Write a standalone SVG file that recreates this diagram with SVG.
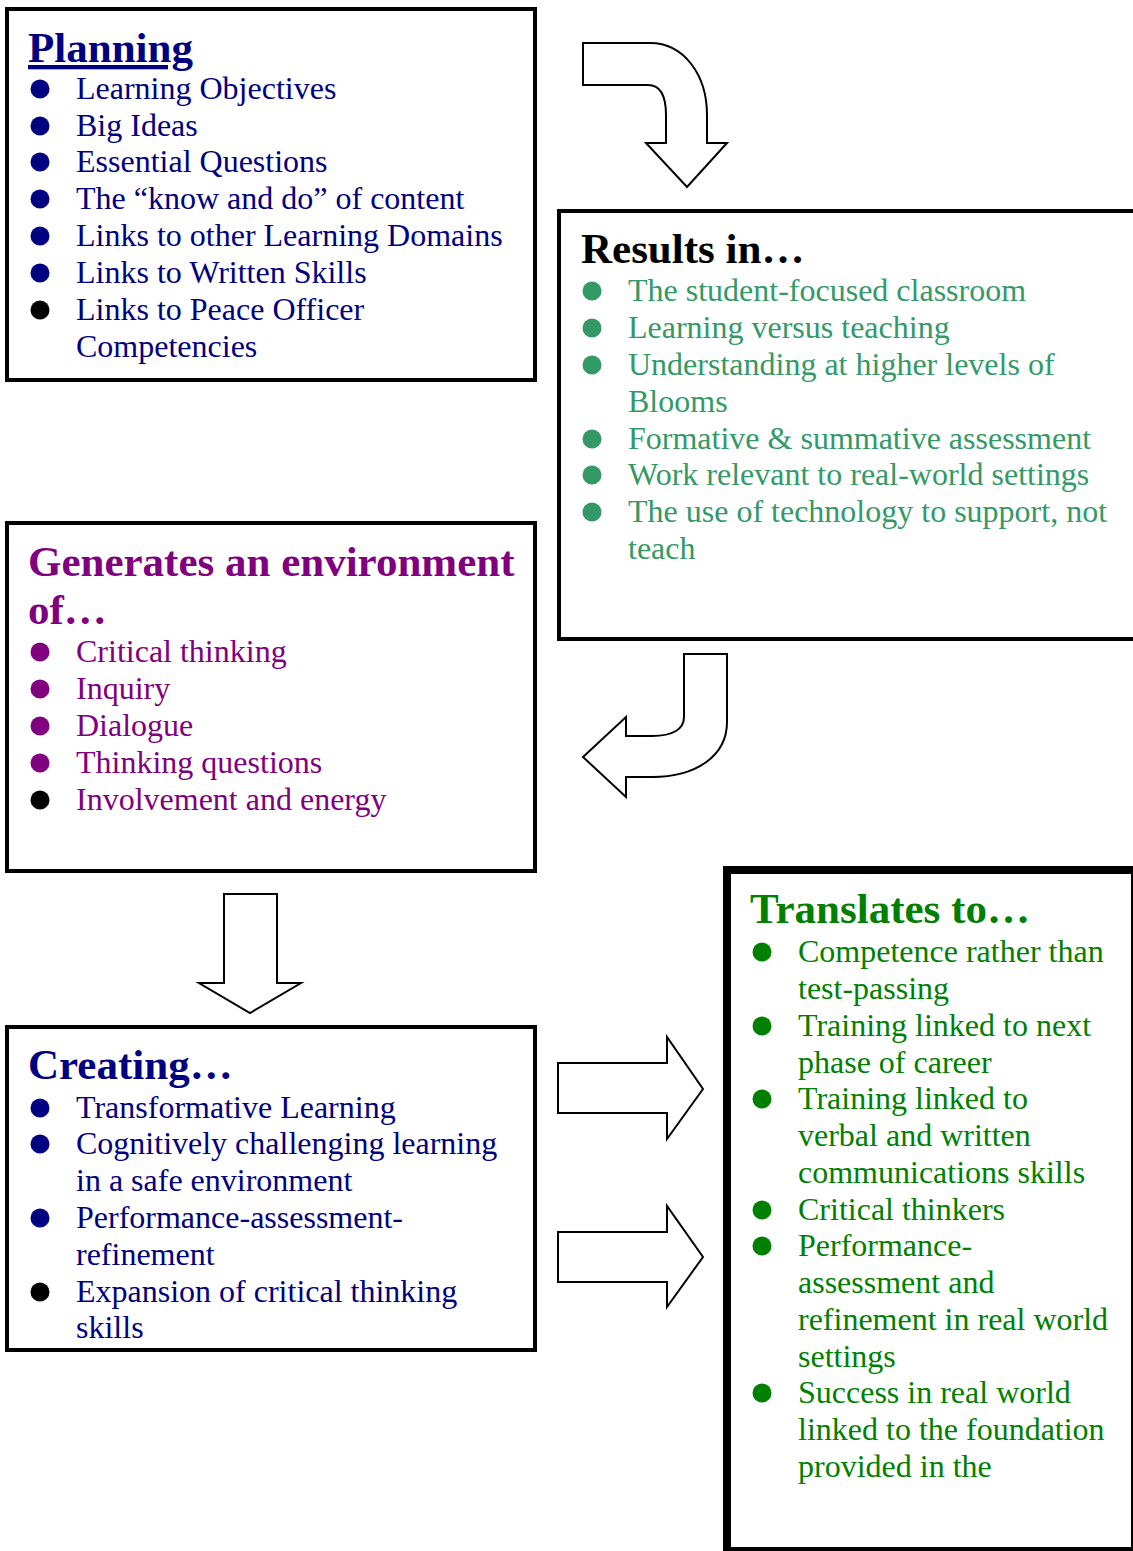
<svg xmlns="http://www.w3.org/2000/svg" width="1133" height="1551" viewBox="0 0 1133 1551">
<style>
text { font-family: "Liberation Serif", "Times New Roman", serif; }
.h { font-size: 43px; font-weight: bold; }
.t { font-size: 32px; }
.box { fill: #fff; stroke: #000; stroke-width: 4; }
.arr { fill: #fff; stroke: #000; stroke-width: 2; stroke-linejoin: miter; }
.navy { fill: #000080; }
.sea { fill: #339966; }
.purple { fill: #800080; }
.green { fill: #008000; }
.blk { fill: #000; }
</style>
<rect x="0" y="0" width="1133" height="1551" fill="#fff"/>

<g id="connectors">
  <path class="arr" d="M583,43 L650,43 C684,43 707,75 707,115 L707,143 L727,143 L687,187 L646,143 L666,143 L666,115 C666,96 660,85 648,85 L583,85 Z"/>
  <path class="arr" d="M684,654 L727,654 L727,722 C727,756 696,777 652,777 L626,777 L626,797 L583,757 L626,717 L626,736 L652,736 C673,736 684,729 684,717 Z"/>
  <path class="arr" d="M224,894 L277,894 L277,983 L301,983 L250,1013 L199,983 L224,983 Z"/>
  <path class="arr" d="M558,1063 L667,1063 L667,1037 L703,1089 L667,1139 L667,1113 L558,1113 Z"/>
  <path class="arr" d="M558,1232 L667,1232 L667,1206 L703,1257 L667,1307 L667,1282 L558,1282 Z"/>
</g>

<g id="planning">
  <rect class="box" x="7" y="9" width="528" height="371"/>
  <text class="h navy" x="28" y="62" text-decoration="underline">Planning</text>
  <circle class="navy" cx="40" cy="89" r="9.5"/>
  <text class="t navy" x="76" y="99">Learning Objectives</text>
  <circle class="navy" cx="40" cy="126" r="9.5"/>
  <text class="t navy" x="76" y="136">Big Ideas</text>
  <circle class="navy" cx="40" cy="162" r="9.5"/>
  <text class="t navy" x="76" y="172">Essential Questions</text>
  <circle class="navy" cx="40" cy="199" r="9.5"/>
  <text class="t navy" x="76" y="209">The “know and do” of content</text>
  <circle class="navy" cx="40" cy="236" r="9.5"/>
  <text class="t navy" x="76" y="246">Links to other Learning Domains</text>
  <circle class="navy" cx="40" cy="273" r="9.5"/>
  <text class="t navy" x="76" y="283">Links to Written Skills</text>
  <circle class="blk" cx="40" cy="310" r="9.5"/>
  <text class="t navy" x="76" y="320">Links to Peace Officer</text>
  <text class="t navy" x="76" y="357">Competencies</text>
</g>

<g id="results">
  <rect class="box" x="559" y="211" width="600" height="428"/>
  <text class="h blk" x="581" y="263">Results in…</text>
  <circle class="sea" cx="592" cy="291" r="9.5"/>
  <text class="t sea" x="628" y="301">The student-focused classroom</text>
  <circle class="sea" cx="592" cy="328" r="9.5"/>
  <text class="t sea" x="628" y="338">Learning versus teaching</text>
  <circle class="sea" cx="592" cy="365" r="9.5"/>
  <text class="t sea" x="628" y="375">Understanding at higher levels of</text>
  <text class="t sea" x="628" y="412">Blooms</text>
  <circle class="sea" cx="592" cy="439" r="9.5"/>
  <text class="t sea" x="628" y="449">Formative &amp; summative assessment</text>
  <circle class="sea" cx="592" cy="475" r="9.5"/>
  <text class="t sea" x="628" y="485">Work relevant to real-world settings</text>
  <circle class="sea" cx="592" cy="512" r="9.5"/>
  <text class="t sea" x="628" y="522">The use of technology to support, not</text>
  <text class="t sea" x="628" y="559">teach</text>
</g>

<g id="generates">
  <rect class="box" x="7" y="523" width="528" height="348"/>
  <text class="h purple" x="28" y="576">Generates an environment</text>
  <text class="h purple" x="28" y="624">of…</text>
  <circle class="purple" cx="40" cy="652" r="9.5"/>
  <text class="t purple" x="76" y="662">Critical thinking</text>
  <circle class="purple" cx="40" cy="689" r="9.5"/>
  <text class="t purple" x="76" y="699">Inquiry</text>
  <circle class="purple" cx="40" cy="726" r="9.5"/>
  <text class="t purple" x="76" y="736">Dialogue</text>
  <circle class="purple" cx="40" cy="763" r="9.5"/>
  <text class="t purple" x="76" y="773">Thinking questions</text>
  <circle class="blk" cx="40" cy="800" r="9.5"/>
  <text class="t purple" x="76" y="810">Involvement and energy</text>
</g>

<g id="creating">
  <rect class="box" x="7" y="1027" width="528" height="323"/>
  <text class="h navy" x="28" y="1079">Creating…</text>
  <circle class="navy" cx="40" cy="1108" r="9.5"/>
  <text class="t navy" x="76" y="1118">Transformative Learning</text>
  <circle class="navy" cx="40" cy="1144" r="9.5"/>
  <text class="t navy" x="76" y="1154">Cognitively challenging learning</text>
  <text class="t navy" x="76" y="1191">in a safe environment</text>
  <circle class="navy" cx="40" cy="1218" r="9.5"/>
  <text class="t navy" x="76" y="1228">Performance-assessment-</text>
  <text class="t navy" x="76" y="1265">refinement</text>
  <circle class="blk" cx="40" cy="1292" r="9.5"/>
  <text class="t navy" x="76" y="1302">Expansion of critical thinking</text>
  <text class="t navy" x="76" y="1338">skills</text>
</g>

<g id="translates">
  <rect x="723" y="866" width="410" height="685" fill="#000"/>
  <rect x="731" y="874" width="400" height="673" fill="#fff"/>
  <text class="h green" x="750" y="923">Translates to…</text>
  <circle class="green" cx="762" cy="952" r="9.5"/>
  <text class="t green" x="798" y="962">Competence rather than</text>
  <text class="t green" x="798" y="999">test-passing</text>
  <circle class="green" cx="762" cy="1026" r="9.5"/>
  <text class="t green" x="798" y="1036">Training linked to next</text>
  <text class="t green" x="798" y="1073">phase of career</text>
  <circle class="green" cx="762" cy="1099" r="9.5"/>
  <text class="t green" x="798" y="1109">Training linked to</text>
  <text class="t green" x="798" y="1146">verbal and written</text>
  <text class="t green" x="798" y="1183">communications skills</text>
  <circle class="green" cx="762" cy="1210" r="9.5"/>
  <text class="t green" x="798" y="1220">Critical thinkers</text>
  <circle class="green" cx="762" cy="1246" r="9.5"/>
  <text class="t green" x="798" y="1256">Performance-</text>
  <text class="t green" x="798" y="1293">assessment and</text>
  <text class="t green" x="798" y="1330">refinement in real world</text>
  <text class="t green" x="798" y="1367">settings</text>
  <circle class="green" cx="762" cy="1393" r="9.5"/>
  <text class="t green" x="798" y="1403">Success in real world</text>
  <text class="t green" x="798" y="1440">linked to the foundation</text>
  <text class="t green" x="798" y="1477">provided in the</text>
</g>
</svg>
